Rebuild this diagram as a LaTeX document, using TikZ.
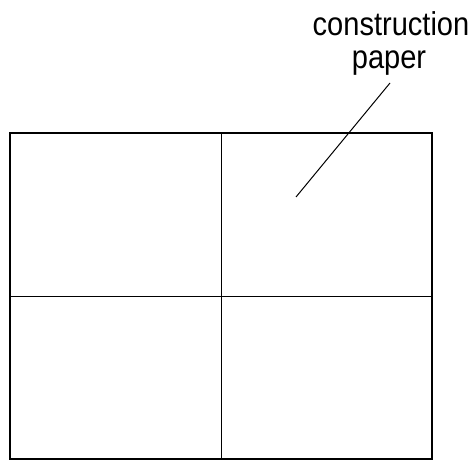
\documentclass[tikz,border=0pt]{standalone}
\usepackage{fontspec}
\setmainfont{Liberation Sans}
\newfontfamily\lblfont[FakeStretch=0.88]{Liberation Sans}
\begin{document}
\begin{tikzpicture}[x=1pt,y=-1pt,
  frame/.style={line width=2pt},
  divider/.style={line width=1pt},
  leader/.style={line width=1pt},
  lbl/.style={font=\lblfont\fontsize{33}{33}\selectfont, inner sep=0pt, anchor=base}]
\useasboundingbox (0,0) rectangle (473,462);
\coordinate (tl) at (10,133);
\coordinate (br) at (432,459);
\coordinate (tm) at (221,133);
\coordinate (bm) at (221,459);
\coordinate (ml) at (10,296);
\coordinate (mr) at (432,296);
\draw[divider] (tm) -- (bm);
\draw[divider] (ml) -- (mr);
\draw[frame] (tl) rectangle (br);
\node[lbl] (t1) at (391,36) {construction};
\node[lbl] (t2) at (389,69) {paper};
\coordinate (tip) at (296,197);
\coordinate (top) at (390,83);
\draw[leader] (tip) -- (top);
\end{tikzpicture}
\end{document}
